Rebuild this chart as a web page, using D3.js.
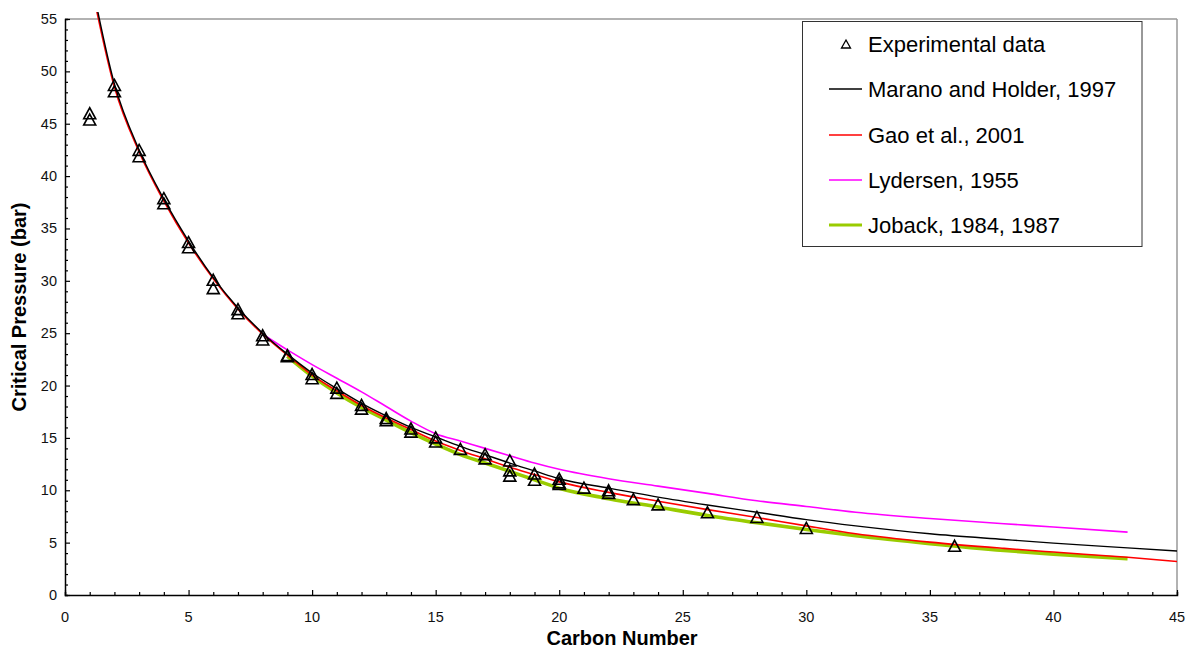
<!DOCTYPE html>
<html>
<head>
<meta charset="utf-8">
<script src="https://cdn.jsdelivr.net/npm/d3@7"></script>
<style>
  html, body { margin: 0; padding: 0; background: #fff; }
  svg { display: block; font-family: Arial, "Liberation Sans", Helvetica, sans-serif; }
</style>
</head>
<body>
<svg id="chart" width="1188" height="652"></svg>
<script>
// Experimental critical pressures (bar) of n-alkanes by carbon number
const expCarbon = [1,1,2,2,3,3,4,4,5,5,6,6,7,7,8,8,9,9,10,10,11,11,12,12,13,13,14,14,15,15,16,17,17,18,18,18,19,19,20,20,20,21,22,22,23,24,26,28,30,36];
const expPc = [46.0,45.4,48.7,48.1,42.5,41.9,37.9,37.4,33.7,33.2,30.1,29.3,27.3,26.9,24.8,24.4,22.9,22.8,21.1,20.7,19.8,19.3,18.15,17.8,16.9,16.7,15.9,15.6,15.05,14.65,13.95,13.45,13.05,12.85,11.9,11.4,11.6,11.0,11.1,10.75,10.6,10.25,10.0,9.75,9.15,8.65,7.9,7.45,6.4,4.7];

// Correlation curves
const maranoC  = [1,2,3,4,5,6,7,8,9,10,11,12,13,14,15,16,17,18,19,20,22,24,26,28,30,32,35,38,40,43,45];
const maranoPc = [59.5,48.8,42.5,37.8,33.8,30.3,27.4,25.0,23.0,21.2,19.7,18.3,17.1,16.0,15.1,14.2,13.4,12.6,11.85,11.1,10.2,9.35,8.6,7.9,7.2,6.6,5.85,5.3,4.95,4.5,4.2];

const gaoC  = [1,2,3,4,5,6,7,8,9,10,11,12,13,14,15,16,17,18,19,20,22,24,26,28,30,32,35,38,40,43,45];
const gaoPc = [59.0,48.5,42.3,37.6,33.6,30.2,27.3,24.9,22.9,21.0,19.5,18.1,16.9,15.8,14.7,13.8,13.0,12.2,11.5,10.8,9.8,8.95,8.15,7.4,6.6,5.85,5.05,4.45,4.1,3.6,3.2];

const lydersenC  = [8,9,10,11,12,13,14,15,16,17,18,19,20,22,24,26,28,30,32,35,38,40,43];
const lydersenPc = [24.9,23.4,22.0,20.7,19.4,18.0,16.6,15.4,14.7,14.0,13.3,12.6,12.0,11.1,10.4,9.7,9.0,8.45,7.9,7.3,6.8,6.5,6.0];

const jobackC  = [9,10,11,12,13,14,15,16,17,18,19,20,22,24,26,28,30,32,35,38,40,43];
const jobackPc = [22.8,20.9,19.3,17.9,16.7,15.5,14.4,13.4,12.6,11.8,11.0,10.2,9.2,8.4,7.6,6.9,6.25,5.65,4.9,4.25,3.9,3.47];

const xTicks = [0,5,10,15,20,25,30,35,40,45];
const yTicks = [0,5,10,15,20,25,30,35,40,45,50,55];

const legendLabels = ["Experimental data", "Marano and Holder, 1997", "Gao et al., 2001", "Lydersen, 1955", "Joback, 1984, 1987"];

const zip = (xs, ys) => xs.map((x, i) => [x, ys[i]]);

const series = [
  { name: legendLabels[4], pts: zip(jobackC, jobackPc),     color: "#99cc00", width: 3.6 },
  { name: legendLabels[3], pts: zip(lydersenC, lydersenPc), color: "#ff00ff", width: 1.6 },
  { name: legendLabels[2], pts: zip(gaoC, gaoPc),           color: "#ff0000", width: 1.6 },
  { name: legendLabels[1], pts: zip(maranoC, maranoPc),     color: "#000000", width: 1.4 }
];

const svg = d3.select("#chart");
const L = 65, R = 1177, T = 19, B = 595;

const x = d3.scaleLinear().domain([0, 45]).range([L, R]);
const y = d3.scaleLinear().domain([0, 55]).range([B, T]);

// plot frame: grey top and right edges
svg.append("line").attr("x1", L).attr("x2", R).attr("y1", T).attr("y2", T)
  .attr("stroke", "#999").attr("stroke-width", 1.5);
svg.append("line").attr("x1", R).attr("x2", R).attr("y1", T).attr("y2", B)
  .attr("stroke", "#999").attr("stroke-width", 1.5);

// axes with inward ticks
const gx = svg.append("g").attr("transform", `translate(0,${B})`);
gx.call(d3.axisBottom(x).tickValues(d3.range(0, 46, 1)).tickSize(-3).tickFormat(""));
gx.call(g => g.selectAll(".tick line").filter(d => d % 5 === 0).attr("y2", -5));
gx.select(".domain").attr("stroke", "#000").attr("stroke-width", 1.5);
gx.selectAll(".tick line").attr("stroke", "#000").attr("stroke-width", 1.2);
xTicks.forEach(t => {
  svg.append("text").attr("x", x(t)).attr("y", B + 27).attr("text-anchor", "middle")
    .attr("font-size", 14.5).attr("fill", "#111").text(t);
});

const gy = svg.append("g").attr("transform", `translate(${L},0)`);
gy.call(d3.axisLeft(y).tickValues(d3.range(0, 56, 1)).tickSize(-3).tickFormat(""));
gy.call(g => g.selectAll(".tick line").filter(d => d % 5 === 0).attr("x2", 5));
gy.select(".domain").attr("stroke", "#000").attr("stroke-width", 1.5);
gy.selectAll(".tick line").attr("stroke", "#000").attr("stroke-width", 1.2);
yTicks.forEach(t => {
  svg.append("text").attr("x", L - 8).attr("y", y(t) + 5).attr("text-anchor", "end")
    .attr("font-size", 14.5).attr("fill", "#111").text(t);
});

// axis titles
svg.append("text").attr("x", 622).attr("y", 645).attr("text-anchor", "middle")
  .attr("font-size", 20).attr("font-weight", "bold").text("Carbon Number");
svg.append("text").attr("transform", `translate(26,307) rotate(-90)`)
  .attr("text-anchor", "middle").attr("font-size", 20).attr("font-weight", "bold")
  .text("Critical Pressure (bar)");

// curves, clipped to the plotting region
svg.append("clipPath").attr("id", "plotClip").append("rect")
  .attr("x", L).attr("y", 12).attr("width", R - L).attr("height", B - 12);

const line = d3.line().x(d => x(d[0])).y(d => y(d[1])).curve(d3.curveMonotoneX);
const curves = svg.append("g").attr("clip-path", "url(#plotClip)");
series.forEach(s => {
  curves.append("path").datum(s.pts).attr("d", line)
    .attr("fill", "none").attr("stroke", s.color).attr("stroke-width", s.width)
    .attr("stroke-linejoin", "round");
});

// open triangle markers
const tri = (w, h) => `M0,${-h / 2}L${w / 2},${h / 2}L${-w / 2},${h / 2}Z`;
svg.append("g").selectAll("path").data(zip(expCarbon, expPc)).join("path")
  .attr("transform", d => `translate(${x(d[0])},${y(d[1])})`)
  .attr("d", tri(12, 11))
  .attr("fill", "none").attr("stroke", "#000").attr("stroke-width", 1.6)
  .attr("stroke-linejoin", "miter");

// legend
const leg = svg.append("g");
leg.append("rect").attr("x", 802.5).attr("y", 21.5).attr("width", 339.5).attr("height", 225)
  .attr("fill", "#fff").attr("stroke", "#333").attr("stroke-width", 1);
const rowY = [44, 89, 135, 180, 225];
leg.append("path").attr("transform", `translate(846,${rowY[0]})`).attr("d", tri(9, 8))
  .attr("fill", "none").attr("stroke", "#000").attr("stroke-width", 1.3);
const legendLines = [series[3], series[2], series[1], series[0]];
legendLines.forEach((s, i) => {
  leg.append("line").attr("x1", 829).attr("x2", 862).attr("y1", rowY[i + 1]).attr("y2", rowY[i + 1])
    .attr("stroke", s.color).attr("stroke-width", s === series[0] ? 3 : 1.5);
});
legendLabels.forEach((t, i) => {
  leg.append("text").attr("x", 868).attr("y", rowY[i] + 8).attr("font-size", 22)
    .attr("fill", "#000").text(t);
});
</script>
</body>
</html>
